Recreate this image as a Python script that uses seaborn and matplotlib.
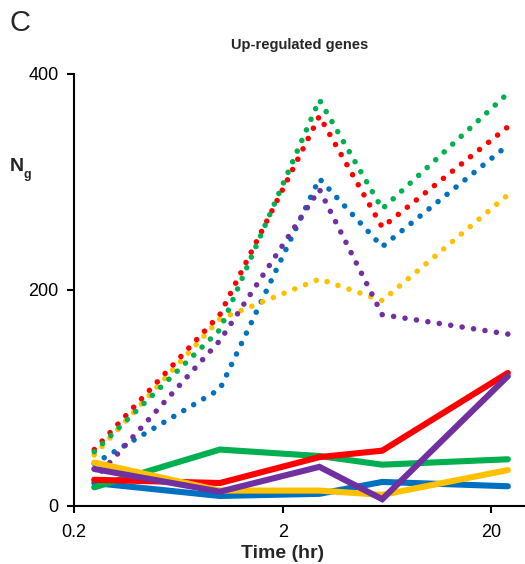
import matplotlib
matplotlib.use("Agg")
import matplotlib.pyplot as plt
from matplotlib.ticker import FixedLocator, FixedFormatter, NullLocator
import seaborn as sns
import pandas as pd

sns.set_style("white")
plt.rcParams['font.family'] = ['Liberation Sans', 'DejaVu Sans']

times = [0.25, 1, 3, 6, 24]

# dotted series
dot_red = [52, 177, 361, 258, 351]
dot_green = [50, 163, 376, 275, 382]
dot_blue = [39, 108, 303, 240, 334]
dot_purple = [24, 153, 293, 177, 159]
dot_yellow = [47, 173, 210, 190, 288]

# solid series
sol_red = [24, 21, 45, 51, 123]
sol_green = [17, 52, 46, 38, 43]
sol_blue = [21, 9, 11, 22, 18]
sol_yellow = [40, 14, 14, 10, 33]
sol_purple = [34, 13, 36, 6, 120]

x_ticks = [0.2, 2, 20]
x_tick_labels = ["0.2", "2", "20"]
y_ticks = [0, 200, 400]

RED = "#FF0000"
GREEN = "#00B050"
BLUE = "#0070C0"
PURPLE = "#7030A0"
YELLOW = "#FFC000"

fig = plt.figure(figsize=(5.25, 5.64), dpi=100)
ax = fig.add_axes([0.141, 0.1034, 0.859, 0.7654])

dotted = [(dot_blue, BLUE), (dot_yellow, YELLOW), (dot_purple, PURPLE),
          (dot_red, RED), (dot_green, GREEN)]
for vals, col in dotted:
    df = pd.DataFrame({"t": times, "n": vals})
    sns.lineplot(data=df, x="t", y="n", ax=ax, color=col, lw=4.0,
                 linestyle=(0, (0.01, 2.07)), dash_capstyle="round")

solid = [(sol_blue, BLUE), (sol_green, GREEN), (sol_red, RED),
         (sol_yellow, YELLOW), (sol_purple, PURPLE)]
for vals, col in solid:
    df = pd.DataFrame({"t": times, "n": vals})
    sns.lineplot(data=df, x="t", y="n", ax=ax, color=col, lw=4.4,
                 solid_capstyle="round", solid_joinstyle="miter")

ax.set_xscale("log")
ax.set_xlim(0.2, 29)
ax.set_ylim(0, 400)
ax.xaxis.set_major_locator(FixedLocator(x_ticks))
ax.xaxis.set_major_formatter(FixedFormatter(x_tick_labels))
ax.xaxis.set_minor_locator(NullLocator())
ax.set_yticks(y_ticks)

for s in ["top", "right"]:
    ax.spines[s].set_visible(False)
for s in ["left", "bottom"]:
    ax.spines[s].set_color("black")
    ax.spines[s].set_linewidth(1.5)
ax.spines["left"].set_zorder(0.5)

ax.tick_params(axis="both", direction="out", length=5, width=1.5,
               colors="black", labelsize=13, left=True, bottom=True)
ax.tick_params(axis="x", pad=8)
ax.tick_params(axis="y", pad=6)

ax.set_xlabel("Time (hr)", fontsize=14, fontweight="bold")
ax.xaxis.set_label_coords(0.462, -0.09)
ax.set_ylabel("")
ax.set_title("Up-regulated genes", fontsize=10.5, fontweight="bold", pad=18)

fig.text(0.019, 0.96, "C", fontsize=21, ha="left", va="center")
fig.text(0.019, 0.705, "N", fontsize=14, fontweight="bold", ha="left", va="center")
fig.text(0.044, 0.689, "g", fontsize=9, fontweight="bold", ha="left", va="center")

fig.savefig("out.png", dpi=100)
